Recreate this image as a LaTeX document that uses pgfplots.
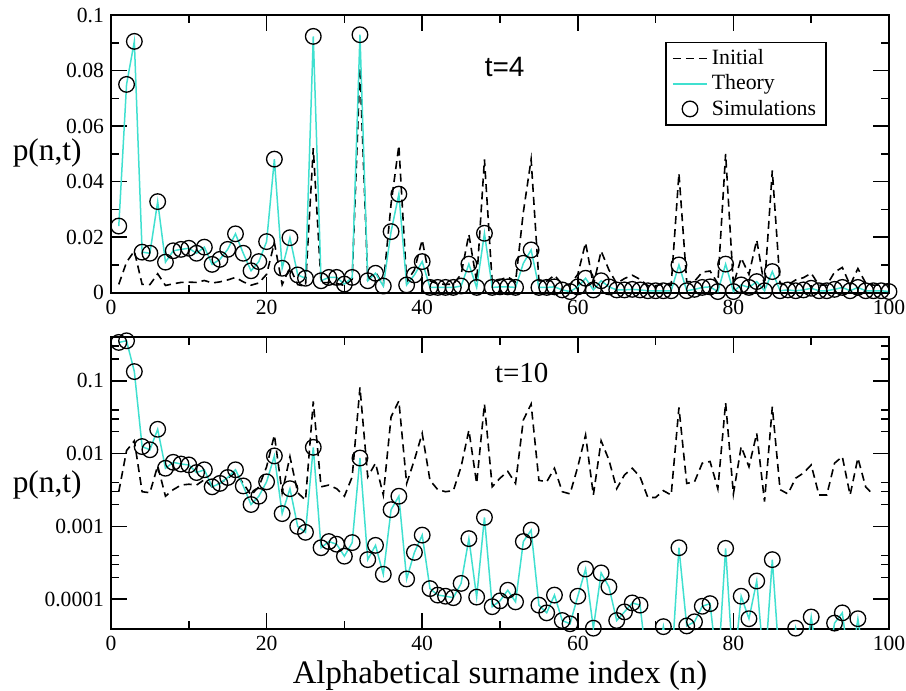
\documentclass[border=0pt]{standalone}
\usepackage{fontspec}
\setmainfont{Liberation Serif}
\newfontfamily\sansf{Liberation Sans}
\usepackage{pgfplots}
\usepackage{pgfplotstable}
\pgfplotsset{compat=1.18}
\definecolor{theory}{RGB}{64,224,208}

\pgfplotstableread{
n init th4 thten simten
1 0.003 0.024 0.337 0.337
2 0.011 0.075 0.355 0.355
3 0.015 0.0905 0.134 0.134
4 0.003 0.0146 0.0125 0.0125
5 0.0029 0.0142 0.0113 0.0113
6 0.0068 0.0328 0.0216 0.0216
7 0.0026 0.011 0.0063 0.0063
8 0.0032 0.0151 0.0076 0.0076
9 0.0037 0.0156 0.0072 0.0072
10 0.0038 0.016 0.0070 0.0070
11 0.0037 0.0142 0.0055 0.0055
12 0.0044 0.0164 0.006 0.006
13 0.0035 0.0102 0.0035 0.0035
14 0.0039 0.012 0.0039 0.0039
15 0.0046 0.0156 0.0047 0.0047
16 0.0055 0.0212 0.006 0.006
17 0.0039 0.0142 0.0036 0.0036
18 0.0027 0.0079 0.002 0.002
19 0.0035 0.0112 0.0026 0.0026
20 0.0066 0.0184 0.0041 0.0041
21 0.018 0.0481 0.0093 0.0093
22 0.0029 0.0088 0.0015 0.0015
23 0.0091 0.0198 0.0033 0.0033
24 0.0029 0.0064 0.001 0.001
25 0.0023 0.0052 0.00083 0.00083
26 0.052 0.0923 0.0122 0.0122
27 0.0035 0.0043 0.00051 0.00051
28 0.0037 0.0055 0.00062 0.00062
29 0.0033 0.0055 0.00057 0.00057
30 0.0026 0.0031 0.00039 0.00039
31 0.0048 0.0055 0.0006 0.0006
32 0.081 0.0929 0.0087 0.0087
33 0.0048 0.0043 0.00035 0.00035
34 0.0074 0.007 0.00055 0.00055
35 0.0027 0.0024 0.00022 0.00022
36 0.032 0.022 0.0017 0.0017
37 0.053 0.0355 0.0026 0.0026
38 0.0039 0.0028 0.00019 0.00019
39 0.0082 0.0064 0.00044 0.00044
40 0.019 0.0112 0.00076 0.00076
41 0.0043 0.0019 0.00014 0.00014
42 0.0032 0.0019 0.000114 0.000114
43 0.003 0.0019 0.00011 0.00011
44 0.0031 0.0019 0.000105 0.000105
45 0.0066 0.0024 0.000165 0.000165
46 0.021 0.0103 0.00068 0.00068
47 0.0039 0.0019 0.000107 0.000107
48 0.048 0.0214 0.00133 0.00133
49 0.0035 0.0019 0.000079 0.000079
50 0.0046 0.0021 0.000095 0.000095
51 0.0057 0.0021 0.000133 0.000133
52 0.0039 0.0019 0.000092 0.000092
53 0.029 0.0106 0.00062 0.00062
54 0.048 0.0154 0.00089 0.00089
55 0.0043 0.0019 0.000083 0.000083
56 0.0041 0.0019 0.000065 0.000065
57 0.0063 0.0021 0.000114 0.000114
58 0.003 0.001 0.000051 0.000051
59 0.0028 0.0004 0.000046 0.000046
60 0.0066 0.0021 0.00011 0.00011
61 0.018 0.0052 0.00026 0.00026
62 0.0027 0.001 0.00004 0.00004
63 0.015 0.0043 0.00023 0.00023
64 0.0082 0.0021 0.000148 0.000148
65 0.0033 0.001 0.000051 0.000051
66 0.0051 0.001 0.000067 0.000067
67 0.0063 0.0012 0.000089 0.000089
68 0.0048 0.001 0.000083 0.000083
69 0.0025 0.0007 0.00001 nan
70 0.0025 0.0007 0.00001 nan
71 0.0031 0.0007 0.000042 0.000042
72 0.0027 0.0007 0.00001 nan
73 0.043 0.0100 0.00051 0.00051
74 0.0039 0.0007 0.000043 0.000043
75 0.0041 0.0012 0.000049 0.000049
76 0.0074 0.0019 0.00008 0.00008
77 0.0078 0.0021 0.000087 0.000087
78 0.0033 0.0004 0.00001 nan
79 0.050 0.0103 0.0005 0.0005
80 0.0028 0.0004 0.00001 nan
81 0.0125 0.0028 0.00011 0.00011
82 0.0066 0.0019 0.000054 0.000054
83 0.019 0.004 0.000178 0.000178
84 0.0022 0.0007 0.00001 nan
85 0.044 0.0076 0.00035 0.00035
86 0.0032 0.0007 0.00001 nan
87 0.0028 0.001 0.00001 nan
88 0.0046 0.0007 0.00004 0.00004
89 0.0054 0.001 0.00001 nan
90 0.007 0.0016 0.000057 0.000057
91 0.0027 0.0007 0.00001 nan
92 0.0027 0.0007 0.00001 nan
93 0.0074 0.0012 0.000047 0.000047
94 0.0091 0.0019 0.000065 0.000065
95 0.0027 0.0007 0.00001 nan
96 0.0087 0.0019 0.000054 0.000054
97 0.0035 0.0007 0.00001 nan
98 0.0027 0.0007 0.00001 nan
99 0.0027 0.0007 0.00001 nan
100 0.0033 0.0004 0.00001 nan
}\data

\pgfplotsset{
  common/.style={
    scale only axis, width=389pt,
    xmin=0, xmax=100,
    xtick={0,20,40,60,80,100}, xticklabels={0,20,40,60,80,100},
    minor xtick={10,30,50,70,90},
    tick align=inside, major tick length=8pt, minor tick length=4pt,
    axis line style={line width=0.85pt},
    tick style={black, line width=0.75pt},
    ticklabel style={font=\fontsize{10.8}{12}\selectfont},
    /pgf/number format/assume math mode=true,
    ylabel={p(n,t)},
    ylabel style={font=\fontsize{15.7}{18}\selectfont, rotate=-90, anchor=center},
  },
  initstyle/.style={black, line width=0.8pt, dash pattern=on 4pt off 2.5pt},
  thstyle/.style={theory, line width=0.75pt},
  simstyle/.style={only marks, mark=o, mark size=3.9pt, mark options={black, line width=0.65pt}},
}

\begin{document}
\begin{tikzpicture}
\path[use as bounding box] (0,0) rectangle (453pt,345.5pt);

\begin{axis}[common,
  at={(55.5pt,199.15pt)}, anchor=south west, height=138.85pt,
  ymin=0, ymax=0.1,
  ytick={0,0.02,0.04,0.06,0.08,0.1}, yticklabels={0,0.02,0.04,0.06,0.08,0.1},
  minor ytick={0.01,0.03,0.05,0.07,0.09},
  ylabel style={at={(axis description cs:-0.082,0.503)}},
  legend cell align=left,
  legend style={at={(0.920,0.903)}, anchor=north east, draw=black, line width=0.7pt,
    font=\fontsize{10.9}{12.5}\selectfont, inner xsep=3pt, inner ysep=1.5pt, row sep=-0.5pt},
]
\addplot[initstyle] table[x=n,y=init]{\data};
\addlegendentry{Initial}
\addplot[thstyle] table[x=n,y=th4]{\data};
\addlegendentry{Theory}
\addplot[simstyle] table[x=n,y=th4]{\data};
\addlegendentry{Simulations}
\node[font=\sansf\fontsize{14}{16}\selectfont] at (rel axis cs:0.506,0.813) {t=4};
\end{axis}

\begin{axis}[common,
  at={(55.5pt,31pt)}, anchor=south west, height=146pt,
  ymode=log, ymin=3.9e-5, ymax=0.4,
  ytick={0.0001,0.001,0.01,0.1}, yticklabels={0.0001,0.001,0.01,0.1},
  minor ytick={0.0002,0.0003,0.0004,0.002,0.003,0.004,0.02,0.03,0.04,0.2,0.3},
  ylabel style={at={(axis description cs:-0.082,0.493)}},
  xlabel={Alphabetical surname index (n)},
  xlabel style={font=\fontsize{16.4}{19}\selectfont, at={(axis description cs:0.5,0)}, anchor=center, yshift=-23.5pt},
]
\addplot[initstyle, restrict x to domain=0:98] table[x=n,y=init]{\data};
\addplot[thstyle] table[x=n,y=thten]{\data};
\addplot[simstyle] table[x=n,y=simten]{\data};
\node[font=\fontsize{14.5}{17}\selectfont] at (rel axis cs:0.528,0.877) {t=10};
\end{axis}
\end{tikzpicture}
\end{document}
